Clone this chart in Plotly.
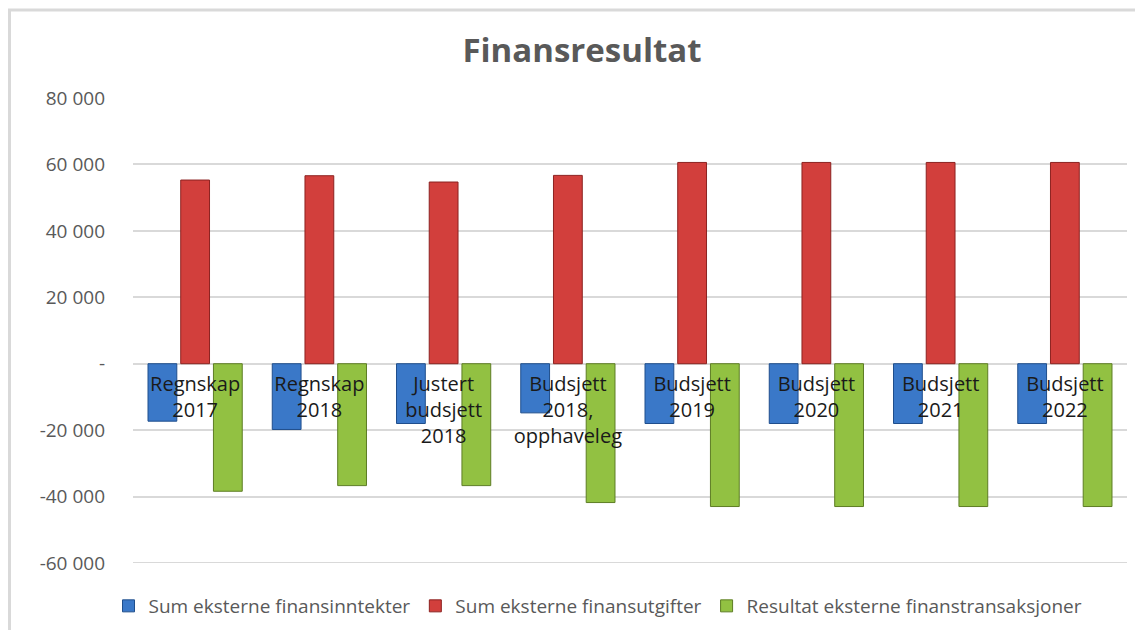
import plotly.graph_objects as go

categories = ["Regnskap<br>2017", "Regnskap<br>2018", "Justert<br>budsjett<br>2018",
              "Budsjett<br>2018,<br>opphaveleg", "Budsjett<br>2019", "Budsjett<br>2020",
              "Budsjett<br>2021", "Budsjett<br>2022"]
inntekter = [-17300, -19800, -18000, -14800, -18000, -18000, -18000, -18000]
utgifter = [55300, 56600, 54700, 56700, 60600, 60600, 60600, 60600]
resultat = [-38400, -36700, -36700, -41800, -43000, -43000, -43000, -43000]
series_names = ["Sum eksterne finansinntekter", "Sum eksterne finansutgifter",
                "Resultat eksterne finanstransaksjoner"]
y_ticks = [-60000, -40000, -20000, 0, 20000, 40000, 60000, 80000]
y_tick_labels = ["-60 000", "-40 000", "-20 000", "-", "20 000", "40 000", "60 000", "80 000"]

colors = ["#3a78c8", "#d23f3c", "#92c142"]
edges = ["#1f4e8c", "#8c2220", "#5d7d24"]

# page body has an 8px margin; compensate so absolute positions match
OFF = 8
W, H = 1143 - OFF, 630 - OFF
L, T = 133 - OFF, 98 - OFF
R = W - (1127 - OFF)
B = H - (563 - OFF)
PW, PH = W - L - R, H - T - B

fig = go.Figure()
for name, vals, c, e in zip(series_names, [inntekter, utgifter, resultat], colors, edges):
    fig.add_trace(go.Bar(x=categories, y=vals, name=name,
                         marker=dict(color=c, line=dict(color=e, width=1))))

ymin, ymax = -60000, 80000
fig.update_layout(
    width=W, height=H,
    paper_bgcolor="white", plot_bgcolor="white",
    margin=dict(l=L, r=R, t=T, b=B, autoexpand=False),
    barmode="group", bargap=0.21, bargroupgap=0.12,
    title=dict(text="<b>Finansresultat</b>", x=(582 - OFF) / W, xanchor="center",
               xref="container", y=1 - (50 - OFF) / H, yanchor="middle",
               font=dict(family="Open Sans", size=33, color="#595959")),
    font=dict(family="Open Sans", color="#595959"),
    showlegend=True,
    legend=dict(orientation="h", x=(598 - OFF - L) / PW, xanchor="center", xref="paper",
                y=1 - (606 - OFF) / H, yanchor="middle", yref="container",
                font=dict(family="Open Sans", size=19, color="#595959"),
                itemwidth=30, traceorder="normal"),
    xaxis=dict(anchor="free", position=(0 - ymin) / (ymax - ymin), showline=False,
               ticks="", tickfont=dict(family="Open Sans", size=20, color="#1a1a1a"),
               ticklabelstandoff=6, automargin=False,
               layer="above traces", showgrid=False),
    yaxis=dict(range=[ymin, ymax], tickvals=y_ticks, ticktext=y_tick_labels,
               showgrid=True, gridcolor="#d9d9d9", gridwidth=2, zeroline=False,
               tickfont=dict(family="Open Sans", size=19, color="#595959"),
               ticklabelstandoff=27, automargin=False,
               ticks="", ticklen=0, showline=False),
)

# bottom gridline at the range edge
fig.add_shape(type="line", xref="paper", yref="y", x0=0, x1=1, y0=ymin, y1=ymin,
              line=dict(color="#d9d9d9", width=2), layer="below")

# chart frame lines (top and left)
top_y = (H - B - 2) / PH
fig.add_shape(type="line", xref="paper", yref="paper", x0=-L / PW, x1=(W - L) / PW,
              y0=top_y, y1=top_y, line=dict(color="#d9d9d9", width=3))
fig.add_shape(type="line", xref="paper", yref="paper", x0=(1.5 - L) / PW, x1=(1.5 - L) / PW,
              y0=-B / PH, y1=top_y, line=dict(color="#d9d9d9", width=3))

fig.write_html("out.html")
